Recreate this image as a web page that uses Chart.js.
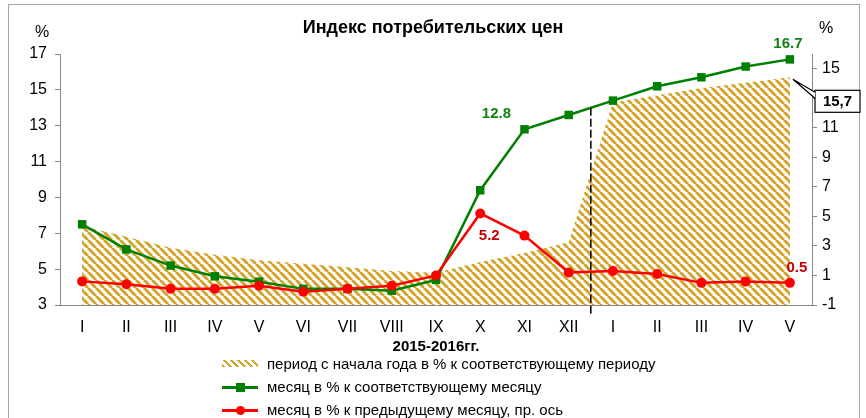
<!DOCTYPE html>
<html>
<head>
<meta charset="utf-8">
<script src="https://cdn.jsdelivr.net/npm/chart.js@4"></script>
<style>
    body { margin: 0; background: #fff; font-family: "Liberation Sans", Arial, sans-serif; }
    #wrap { position: relative; width: 866px; height: 418px; overflow: hidden; }
    #frame { position: absolute; left: 8px; top: 4px; width: 850px; height: 440px; border: 1px solid #a6a6a6; }
    #chart { position: absolute; left: 0; top: 0; }
    .leg { position: absolute; left: 222px; height: 18px; font-size: 15px; line-height: 18px; color: #000; white-space: nowrap; }
    .leg .txt { position: absolute; left: 45px; top: 0; }
    .stripe { position: absolute; left: 0; top: 5px; width: 36px; height: 7px; background: repeating-linear-gradient(45deg, #d4a52c 0 2.5px, #fff 2.5px 5px); }
    .ln { position: absolute; left: 0; top: 8px; width: 36px; height: 3px; }
    .mk { position: absolute; left: 14px; top: 5px; width: 9px; height: 9px; }
</style>
</head>
<body>
<div id="wrap">
    <div id="frame"></div>
    <canvas id="chart" width="866" height="418"></canvas>
    <div class="leg" style="top:355px"><div class="stripe"></div><span class="txt">период с начала года в % к соответствующему периоду</span></div>
    <div class="leg" style="top:378px"><div class="ln" style="background:#008000"></div><div class="mk" style="background:#008000"></div><span class="txt">месяц в % к соответствующему месяцу</span></div>
    <div class="leg" style="top:401px"><div class="ln" style="background:#ff0000"></div><div class="mk" style="background:#ff0000;border-radius:50%"></div><span class="txt">месяц в % к предыдущему месяцу, пр. ось</span></div>
</div>
<script>
const months = ["I", "II", "III", "IV", "V", "VI", "VII", "VIII", "IX", "X", "XI", "XII", "I", "II", "III", "IV", "V"];
const periodYtd = [7.4, 6.8, 6.2, 5.8, 5.5, 5.3, 5.1, 4.9, 4.8, 5.4, 5.9, 6.5, 14.3, 14.7, 15.1, 15.4, 15.7];
const monthYoY = [7.5, 6.1, 5.2, 4.6, 4.3, 3.9, 3.9, 3.8, 4.4, 9.4, 12.8, 13.6, 14.4, 15.2, 15.7, 16.3, 16.7];
const monthMoM = [0.6, 0.4, 0.1, 0.1, 0.3, -0.1, 0.1, 0.3, 1.0, 5.2, 3.7, 1.2, 1.3, 1.1, 0.5, 0.6, 0.5];
const leftTicks = [3, 5, 7, 9, 11, 13, 15, 17];
const rightTicks = [-1, 1, 3, 5, 7, 9, 11, 13, 15];

const FONT = "'Liberation Sans', Arial, sans-serif";
const AXIS = "#868686";

// striped fill like the excel "wide downward diagonal" pattern
function makeStripes() {
    const c = document.createElement("canvas");
    c.width = 8; c.height = 8;
    const g = c.getContext("2d");
    g.strokeStyle = "#d4a52c";
    g.lineWidth = 3;
    for (let k = -1; k <= 1; k++) {
        g.beginPath();
        g.moveTo(k * 8, 0);
        g.lineTo(k * 8 + 8, 8);
        g.stroke();
    }
    return g.createPattern(c, "repeat");
}

const extras = {
    id: "extras",
    afterDatasetsDraw(chart) {
        const ctx = chart.ctx;
        const area = chart.chartArea;
        const x = chart.scales.x;
        const green = chart.getDatasetMeta(1).data;
        const red = chart.getDatasetMeta(2).data;
        const fill = chart.getDatasetMeta(0).data;

        // year separator
        const sx = (x.getPixelForValue(11) + x.getPixelForValue(12)) / 2;
        const sy = (green[11].y + green[12].y) / 2;
        ctx.save();
        ctx.strokeStyle = "#000";
        ctx.lineWidth = 1.5;
        ctx.setLineDash([8, 3]);
        ctx.beginPath();
        ctx.moveTo(sx, sy);
        ctx.lineTo(sx, area.bottom + 10);
        ctx.stroke();
        ctx.restore();

        // value labels
        ctx.save();
        ctx.font = "bold 15px " + FONT;
        ctx.textAlign = "center";
        ctx.textBaseline = "middle";
        ctx.fillStyle = "#138013";
        ctx.fillText(monthYoY[16].toFixed(1), green[16].x - 2, green[16].y - 16);
        ctx.fillText(monthYoY[10].toFixed(1), green[10].x - 28, green[10].y - 15);
        ctx.fillStyle = "#c00000";
        ctx.fillText(monthMoM[9].toFixed(1), red[9].x + 9, red[9].y + 22);
        ctx.fillText(monthMoM[16].toFixed(1), red[16].x + 7, red[16].y - 15);

        // % unit marks
        ctx.fillStyle = "#000";
        ctx.font = "16px " + FONT;
        ctx.fillText("%", area.left - 18, area.top - 21);
        ctx.fillText("%", area.right + 14, area.top - 25);

        // callout for the last period value
        const tx = fill[16].x + 3, ty = fill[16].y + 2;
        const bx = area.right + 3, by = ty + 11, bw = 45, bh = 22;
        ctx.lineWidth = 1.2;
        ctx.strokeStyle = "#000";
        ctx.fillStyle = "#fff";
        ctx.fillRect(bx, by, bw, bh);
        ctx.strokeRect(bx, by, bw, bh);
        ctx.beginPath();
        ctx.moveTo(bx, by + 2);
        ctx.lineTo(tx, ty);
        ctx.lineTo(bx, by + 8);
        ctx.closePath();
        ctx.fill();
        ctx.beginPath();
        ctx.moveTo(bx, by + 2);
        ctx.lineTo(tx, ty);
        ctx.lineTo(bx, by + 8);
        ctx.stroke();
        ctx.fillStyle = "#000";
        ctx.font = "bold 15px " + FONT;
        ctx.fillText(periodYtd[16].toFixed(1).replace(".", ","), bx + bw / 2, by + bh / 2 + 1);
        ctx.restore();
    }
};

const ctx = document.getElementById("chart").getContext("2d");

new Chart(ctx, {
    type: "line",
    data: {
        labels: months,
        datasets: [{
            label: "период с начала года в % к соответствующему периоду",
            data: periodYtd,
            yAxisID: "y",
            backgroundColor: makeStripes(),
            borderWidth: 0,
            pointRadius: 0,
            fill: "start",
            order: 3
        }, {
            label: "месяц в % к соответствующему месяцу",
            data: monthYoY,
            yAxisID: "y",
            borderColor: "#008000",
            backgroundColor: "#008000",
            borderWidth: 2.5,
            pointStyle: "rect",
            pointRadius: 6,
            pointBorderWidth: 0,
            fill: false,
            order: 2
        }, {
            label: "месяц в % к предыдущему месяцу, пр. ось",
            data: monthMoM,
            yAxisID: "y1",
            borderColor: "#ff0000",
            backgroundColor: "#ff0000",
            borderWidth: 2.5,
            pointRadius: 5,
            pointBorderWidth: 0,
            fill: false,
            order: 1
        }]
    },
    options: {
        responsive: false,
        animation: false,
        events: [],
        layout: { padding: { left: 0, right: 0, top: 0, bottom: 61 } },
        plugins: {
            legend: { display: false },
            tooltip: { enabled: false },
            title: {
                display: true,
                text: "Индекс потребительских цен",
                color: "#000",
                font: { family: FONT, size: 18, weight: "bold", lineHeight: 1.2 },
                padding: { top: 17, bottom: 15.4 }
            }
        },
        scales: {
            x: {
                offset: true,
                grid: { display: false },
                border: { color: AXIS, width: 1 },
                ticks: { color: "#000", font: { family: FONT, size: 16 }, padding: 5, maxRotation: 0, autoSkip: false },
                title: {
                    display: true,
                    text: "2015-2016гг.",
                    color: "#000",
                    font: { family: FONT, size: 15, weight: "bold" },
                    padding: { top: 0, bottom: 1 }
                },
                afterFit(scale) { scale.height = 52; }
            },
            y: {
                position: "left",
                min: 3,
                max: 17,
                grid: { drawOnChartArea: false, drawTicks: true, tickLength: 5, color: AXIS },
                border: { color: AXIS, width: 1 },
                ticks: { color: "#000", font: { family: FONT, size: 16 }, padding: 8 },
                afterBuildTicks(scale) { scale.ticks = leftTicks.map(v => ({ value: v })); },
                afterFit(scale) { scale.width = 60; }
            },
            y1: {
                position: "right",
                min: -1,
                max: 16,
                grid: { drawOnChartArea: false, drawTicks: true, tickLength: 5, color: AXIS },
                border: { color: AXIS, width: 1 },
                ticks: { color: "#000", font: { family: FONT, size: 16 }, padding: 5 },
                afterBuildTicks(scale) { scale.ticks = rightTicks.map(v => ({ value: v })); },
                afterFit(scale) { scale.width = 54; }
            }
        }
    },
    plugins: [extras]
});
</script>
</body>
</html>
